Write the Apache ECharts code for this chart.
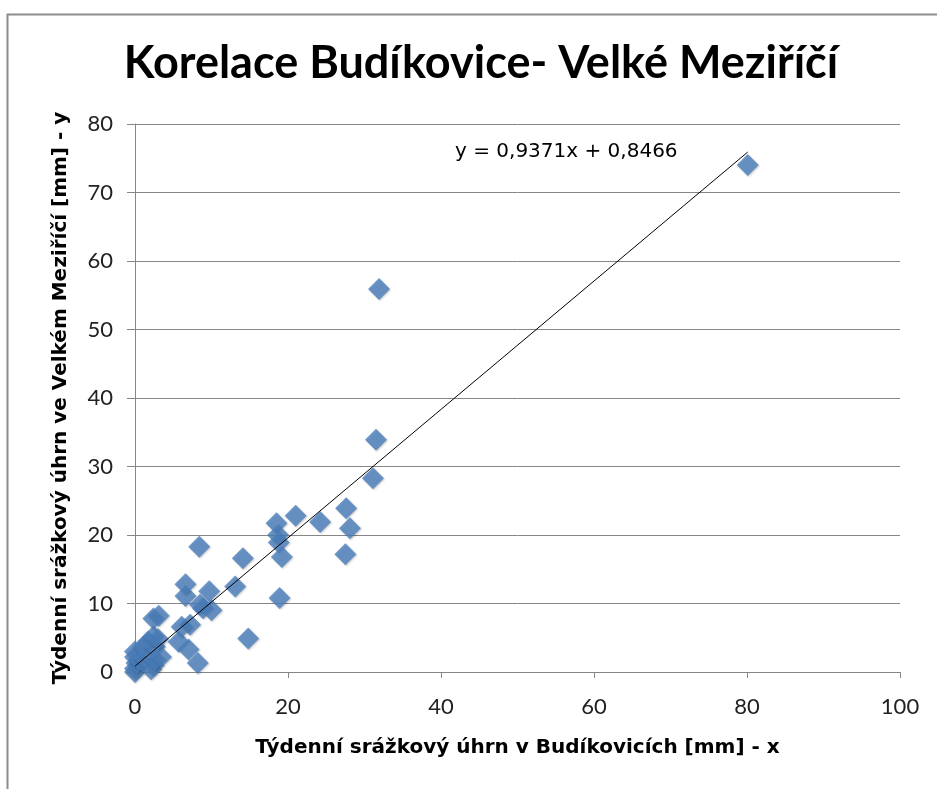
<!DOCTYPE html>
<html>
<head>
    <meta charset="utf-8" />
    <style>
        html, body { margin: 0; padding: 0; background: #fff; }
        #chart { width: 937px; height: 789px; }
    </style>
    <script src="https://cdn.jsdelivr.net/npm/echarts@6/dist/echarts.min.js"></script>
</head>
<body>
    <div id="chart"></div>
    <script type="text/javascript">
        // týdenní úhrny: Budíkovice (x), Velké Meziříčí (y)
        var budikovice = [0, 0, 0.2, 0, 0, 0.5, 1.1, 1.3, 1.7, 2.1, 2.4, 2.6, 2.6, 3.4, 2.4, 3.0, 2.4, 3.1,
            5.7, 7.0, 7.2, 6.1, 8.2, 14.8, 6.6, 6.6, 8.5, 8.9, 9.7, 10.0, 8.4, 13.1, 14.1, 18.9,
            18.5, 18.7, 18.8, 19.2, 21.0, 24.2, 27.5, 27.6, 28.1, 31.1, 31.5, 31.9, 80.1];
        var velkeMezirici = [0, 0.5, 1.3, 2.2, 3.0, 1.8, 3.7, 2.0, 4.4, 0.4, 1.0, 1.8, 3.7, 2.2, 5.2, 4.8, 7.8, 8.2,
            4.4, 3.3, 6.9, 6.6, 1.3, 4.9, 11.1, 12.8, 9.8, 9.3, 11.8, 9.0, 18.3, 12.5, 16.6, 10.8,
            21.7, 20.0, 18.9, 16.8, 22.8, 21.9, 17.2, 23.9, 21.0, 28.3, 33.9, 55.9, 74.0];
        var slope = 0.9371;
        var intercept = 0.8466;
        var rovnice = 'y = 0,9371x + 0,8466';
        var xTicks = [0, 20, 40, 60, 80, 100];
        var yTicks = [0, 10, 20, 30, 40, 50, 60, 70, 80];

        var body = [];
        for (var i = 0; i < budikovice.length; i++) {
            body.push([budikovice[i], velkeMezirici[i]]);
        }
        var xMin = Math.min.apply(null, budikovice);
        var xMax = Math.max.apply(null, budikovice);
        var trend = [[xMin, slope * xMin + intercept], [xMax, slope * xMax + intercept]];

        var font = 'Lato, "Open Sans", sans-serif';
        var wide = '"DejaVu Sans", sans-serif';
        var osaStyle = { color: '#868686', width: 1 };

        var myChart = echarts.init(document.getElementById('chart'));
        var option = {
            backgroundColor: '#fff',
            animation: false,
            title: {
                text: 'Korelace Budíkovice- Velké Meziříčí',
                left: 476, top: 36, textAlign: 'center',
                textStyle: { fontFamily: font, fontSize: 45, fontWeight: 'bold', color: '#000' }
            },
            graphic: [
                {
                    type: 'rect', left: 5, top: 12, silent: true,
                    shape: { width: 950, height: 800 },
                    style: { fill: 'none', stroke: '#8c8c8c', lineWidth: 2 }
                },
                {
                    type: 'text', left: 455, top: 142,
                    style: { text: rovnice, fontFamily: wide, fontSize: 20, fill: '#000' }
                }
            ],
            grid: { left: 135, right: 37, top: 124, bottom: 117 },
            xAxis: {
                type: 'value', min: xTicks[0], max: xTicks[xTicks.length - 1], interval: 20,
                name: 'Týdenní srážkový úhrn v Budíkovicích [mm] - x',
                nameLocation: 'middle', nameGap: 66,
                nameTextStyle: { fontFamily: wide, fontSize: 20, fontWeight: 'bold', color: '#000' },
                axisLine: { show: true, onZero: false, lineStyle: osaStyle },
                axisTick: { show: true, length: 6, inside: false, lineStyle: osaStyle },
                axisLabel: { margin: 24, fontFamily: font, fontSize: 22, color: '#222' },
                splitLine: { show: false }
            },
            yAxis: {
                type: 'value', min: yTicks[0], max: yTicks[yTicks.length - 1], interval: 10,
                name: 'Týdenní srážkový úhrn ve Velkém Meziříčí [mm] - y',
                nameLocation: 'middle', nameGap: 64,
                nameTextStyle: { fontFamily: wide, fontSize: 20, fontWeight: 'bold', color: '#000' },
                axisLine: { show: true, onZero: false, lineStyle: osaStyle },
                axisTick: { show: true, length: 8, lineStyle: osaStyle },
                axisLabel: { margin: 22, fontFamily: font, fontSize: 22, color: '#222' },
                splitLine: { show: true, lineStyle: osaStyle }
            },
            series: [
                {
                    name: 'data',
                    type: 'scatter',
                    symbol: 'diamond',
                    symbolSize: 22,
                    itemStyle: {
                        color: '#4a7ebb',
                        shadowColor: 'rgba(0,0,0,0.25)', shadowBlur: 2, shadowOffsetX: 1, shadowOffsetY: 1
                    },
                    data: body,
                    z: 2
                },
                {
                    name: 'trend',
                    type: 'line',
                    data: trend,
                    showSymbol: false,
                    lineStyle: { color: '#000', width: 1 },
                    z: 3
                }
            ]
        };
        myChart.setOption(option);
    </script>
</body>
</html>
